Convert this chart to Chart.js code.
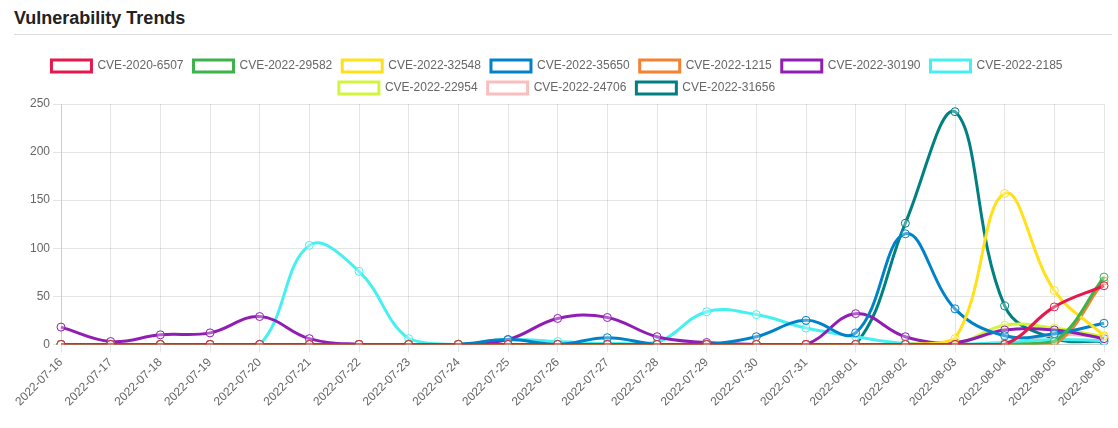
<!DOCTYPE html>
<html>
<head>
<meta charset="utf-8">
<script src="https://cdn.jsdelivr.net/npm/chart.js@4.4.0/dist/chart.umd.min.js"></script>
<style>
  html, body { margin: 0; padding: 0; background: #fff; width: 1118px; height: 428px; overflow: hidden; }
  h2 { position: absolute; left: 14px; top: 8px; margin: 0; font-family: "Liberation Sans", Arial, sans-serif; font-weight: bold; font-size: 18px; color: #222; }
  .rule { position: absolute; left: 14px; top: 34px; width: 1098px; height: 0; border-top: 1px solid #dcdcdc; }
  .wrap { position: absolute; left: 1px; top: 50px; width: 1112px; height: 362px; }
</style>
</head>
<body>
<h2>Vulnerability Trends</h2>
<div class="rule"></div>
<div class="wrap"><canvas id="c"></canvas></div>
<script>
const labels = ["2022-07-16","2022-07-17","2022-07-18","2022-07-19","2022-07-20","2022-07-21","2022-07-22","2022-07-23","2022-07-24","2022-07-25","2022-07-26","2022-07-27","2022-07-28","2022-07-29","2022-07-30","2022-07-31","2022-08-01","2022-08-02","2022-08-03","2022-08-04","2022-08-05","2022-08-06"];
const seriesNames = ["CVE-2020-6507","CVE-2022-29582","CVE-2022-32548","CVE-2022-35650","CVE-2022-1215","CVE-2022-30190","CVE-2022-2185","CVE-2022-22954","CVE-2022-24706","CVE-2022-31656"];
const cve_2020_6507  = [0,0,0,0,0,0,0,0,0,0,0,0,0,0,0,0,0,0,0,0,39,61];
const cve_2022_29582 = [0,0,0,0,0,0,0,0,0,0,0,0,0,0,0,0,0,0,0,0,3,70];
const cve_2022_32548 = [0,0,0,0,0,0,0,0,0,0,0,0,0,0,0,0,0,0,6,157,56,9];
const cve_2022_35650 = [0,0,0,0,0,0,0,0,0,5,0,7,0,0,8,25,12,115,37,9,11,22];
const cve_2022_1215  = [0,0,0,0,0,0,0,0,0,0,0,0,0,0,0,0,0,0,0,0,0,66];
const cve_2022_30190 = [18,3,10,12,29,6,0,0,0,5,27,28,8,2,0,0,32,8,2,15,15,6];
const cve_2022_2185  = [0,0,0,0,0,103,76,6,0,5,3,1,2,34,31,17,8,1,0,2,5,4];
const cve_2022_22954 = [0,0,0,0,0,0,0,0,0,0,0,0,0,0,0,0,0,0,0,20,17,8];
const cve_2022_24706 = [0,0,0,0,0,0,0,0,0,0,0,0,0,0,0,0,0,0,0,0,10,8];
const cve_2022_31656 = [0,0,0,0,0,0,0,0,0,0,0,0,0,0,0,0,0,126,242,40,6,3];
const colors = ["#e6194b","#3cb44b","#ffe119","#0082c8","#f58231","#911eb4","#46f0f0","#d2f53c","#fabebe","#008080"];
const seriesValues = [cve_2020_6507,cve_2022_29582,cve_2022_32548,cve_2022_35650,cve_2022_1215,cve_2022_30190,cve_2022_2185,cve_2022_22954,cve_2022_24706,cve_2022_31656];
const yTicks = [0,50,100,150,200,250];

const FONT = "'Liberation Sans', Arial, Helvetica, sans-serif";
Chart.defaults.font.family = FONT;
Chart.defaults.font.size = 12;
Chart.defaults.color = "#666";

new Chart(document.getElementById("c"), {
  type: "line",
  data: {
    labels: labels,
    datasets: seriesNames.map((n, i) => ({
      label: n,
      data: seriesValues[i],
      borderColor: colors[i],
      backgroundColor: "rgba(255,255,255,0)",
      pointBorderColor: colors[i],
      pointBackgroundColor: "rgba(255,255,255,0.3)",
      borderWidth: 3,
      pointRadius: 4,
      pointBorderWidth: 1,
      tension: 0.4,
      fill: false
    }))
  },
  options: {
    responsive: true,
    maintainAspectRatio: false,
    animation: false,
    plugins: {
      legend: {
        position: "top",
        labels: { boxWidth: 40, boxHeight: 12, padding: 10, color: "#666", font: { size: 12, family: FONT } }
      },
      tooltip: { enabled: false }
    },
    scales: {
      x: {
        grid: { color: "rgba(0,0,0,0.1)", tickLength: 8 },
        border: { color: "rgba(0,0,0,0.1)" },
        ticks: { minRotation: 45, maxRotation: 45, autoSkip: false, color: "#666", font: { size: 12 } },
        afterFit: (s) => { s.paddingLeft = 60; s.paddingRight = 9; }
      },
      y: {
        min: yTicks[0],
        max: yTicks[yTicks.length - 1],
        grid: { color: "rgba(0,0,0,0.1)", tickLength: 8 },
        border: { color: "rgba(0,0,0,0.1)" },
        ticks: { stepSize: yTicks[1] - yTicks[0], color: "#666", font: { size: 12 } }
      }
    }
  }
});
</script>
</body>
</html>
